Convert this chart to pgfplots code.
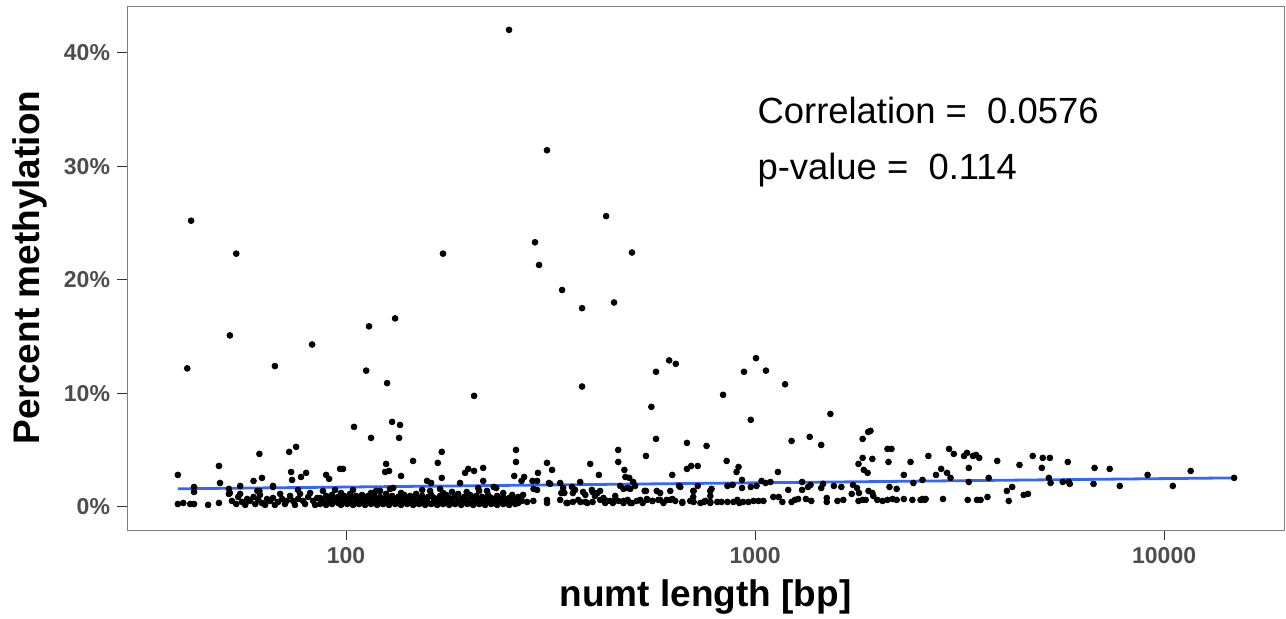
\documentclass[border=0pt]{standalone}
\usepackage{fontspec}
\setmainfont{Liberation Sans}
\usepackage{pgfplots}
\usepackage{pgfplotstable}
\pgfplotsset{compat=1.18}
\definecolor{tickgray}{HTML}{4D4D4D}
\definecolor{framegray}{HTML}{7F7F7F}
\definecolor{lineblue}{HTML}{3366FF}
\pgfplotstableread{
x y
38.8 2.82
38.8 0.26
40.0 0.35
40.9 12.2
41.8 25.2
41.6 0.26
42.5 0.26
42.5 1.76
42.5 1.32
46.0 0.18
48.9 0.35
48.9 3.61
49.2 2.11
51.7 1.59
51.7 1.15
53.9 22.3
52.0 15.1
55.1 1.85
59.4 2.29
61.4 4.67
62.3 2.56
61.4 1.41
66.3 1.76
67.0 12.4
72.6 4.85
75.5 5.29
73.4 3.08
73.8 2.38
77.6 2.64
79.9 3.00
82.6 14.3
89.4 2.82
90.9 2.47
96.7 3.35
98.3 3.35
104.6 7.05
115.1 6.08
112.0 12.0
113.8 15.9
129.6 7.49
135.5 7.22
134.8 6.08
126.0 10.9
131.8 16.6
125.3 3.79
124.6 3.08
127.4 3.17
145.8 4.05
136.3 2.73
167.6 3.88
171.4 4.85
171.4 2.56
172.6 22.3
157.8 2.29
161.4 2.11
128.1 1.59
130.4 1.67
118.4 1.41
160.5 1.41
169.8 1.59
195.4 3.00
199.0 3.35
205.6 3.17
205.6 9.78
216.4 3.44
216.4 2.29
190.0 2.11
197.2 1.32
210.4 1.67
221.1 1.41
229.6 1.76
232.9 1.67
181.6 1.32
250.3 42.0
260.3 5.02
260.3 3.96
257.7 2.73
272.5 2.64
268.5 2.29
285.7 2.29
293.1 2.29
294.6 3.00
289.7 23.3
296.4 21.3
309.9 31.4
309.9 3.88
313.4 2.11
287.3 1.59
293.1 1.50
242.2 1.23
270.9 1.06
318.9 3.26
315.5 2.03
309.9 0.62
337.4 19.1
339.4 1.67
341.7 1.23
356.8 1.76
373.6 2.20
395.3 3.79
415.1 2.82
377.6 17.5
377.6 10.6
379.7 1.32
400.6 1.32
411.6 1.23
432.3 25.6
452.0 18.0
462.8 5.02
462.8 3.96
479.1 3.26
481.8 2.64
492.4 2.56
503.4 2.20
468.1 1.85
476.7 1.59
495.2 1.59
508.9 1.85
500.0 22.4
541.0 4.49
557.8 8.81
572.5 5.99
572.5 11.9
541.0 1.41
616.5 12.9
640.0 12.6
627.2 2.82
620.4 1.41
656.4 1.76
681.5 5.64
681.5 3.35
697.9 3.61
724.0 3.61
761.0 5.37
724.0 1.85
707.5 1.41
706.0 0.88
782.6 1.59
777.3 0.97
835.0 9.87
852.0 4.05
901.0 3.08
911.0 3.52
856.0 1.85
881.0 1.94
929.0 2.38
929.0 1.67
939.4 11.9
976 1.76
976 7.67
1008 1.85
1005 13.1
1037 2.29
1061 2.11
1090 2.20
1063 12.0
1137 3.08
1184 10.8
1205 1.50
1228 5.81
1303 2.20
1303 1.50
1347 1.76
1366 1.94
1360 6.17
1451 5.46
1528 8.19
1451 1.67
1466 2.03
1558 1.85
1625 1.76
1723 1.15
1735 1.94
1775 1.67
1795 1.23
1790 3.79
1832 5.99
1915 6.70
1890 6.60
1832 4.32
1935 4.23
1844 3.26
1884 3.00
1894 1.41
1935 1.23
1945 0.97
2107 5.11
2155 5.11
2119 3.96
2131 1.76
2219 1.59
2399 3.96
2310 2.82
2437 2.11
2566 2.38
2652 4.49
2769 2.82
2850 3.35
2946 3.00
3005 2.56
2980 5.11
3060 4.67
3243 4.49
3297 4.76
3409 4.49
3468 4.58
3531 4.32
3330 3.44
3330 2.20
3725 2.56
3909 4.05
4125 1.41
4252 1.76
4430 3.70
4536 1.06
4645 1.15
4772 4.49
5022 3.44
5050 4.32
5256 4.32
5226 2.56
5277 2.11
5651 2.20
5814 3.96
5847 2.20
5880 2.03
6720 2.03
6760 3.44
7360 3.35
7790 1.85
9110 2.82
10500 1.85
11610 3.17
14830 2.56
}\sparse
\pgfplotstableread{
x y
52.6 0.53
53.9 0.26
54.5 0.88
55.1 1.15
55.7 0.44
56.7 0.18
57.3 0.70
58.2 0.53
59.4 0.88
60.0 0.26
61.0 0.62
61.6 1.06
62.3 0.35
63.4 0.18
64.1 0.70
65.2 0.53
66.3 0.79
67.0 0.18
68.2 0.44
69.0 1.15
69.8 0.70
70.9 0.26
71.6 0.53
73.0 0.97
74.2 0.53
75.0 0.18
76.3 0.70
77.2 1.15
78.5 0.53
79.4 0.26
80.8 0.88
81.7 1.23
83.1 0.53
84.0 0.18
85.0 0.79
52.0 1.23
60.7 1.41
66.3 1.85
76.3 1.50
86.4 0.26
86.4 0.79
87.8 0.53
87.8 1.41
89.4 0.18
89.4 0.97
90.9 0.44
90.9 0.70
92.4 0.26
92.4 1.06
94.0 0.62
94.0 1.50
95.6 0.35
95.6 0.88
97.2 0.18
97.2 0.62
97.2 1.23
98.9 0.44
98.9 0.97
100.6 0.26
100.6 0.70
102.3 0.53
102.3 1.15
104.0 0.18
104.0 0.79
104.0 1.50
105.8 0.35
105.8 0.97
107.6 0.26
107.6 0.62
109.4 0.44
109.4 1.06
111.3 0.18
111.3 0.79
113.2 0.53
113.2 0.97
115.1 0.26
115.1 0.70
115.1 1.23
117.1 0.44
117.1 1.06
119.1 0.18
119.1 0.62
121.1 0.35
121.1 0.88
121.1 1.41
123.2 0.26
123.2 0.70
125.3 0.53
125.3 1.15
127.4 0.18
127.4 0.79
129.6 0.44
129.6 0.97
131.8 0.26
131.8 0.62
134.1 0.35
134.1 0.88
136.3 0.18
136.3 0.70
136.3 1.23
138.7 0.44
138.7 1.06
141.0 0.26
141.0 0.62
143.4 0.53
143.4 0.97
145.9 0.18
145.9 0.79
148.4 0.35
148.4 1.15
150.9 0.26
150.9 0.70
153.5 0.44
153.5 0.97
153.5 1.50
156.1 0.18
156.1 0.62
158.8 0.35
158.8 0.88
161.5 0.26
161.5 1.06
164.2 0.53
164.2 0.79
167.0 0.18
167.0 0.62
169.8 0.35
169.8 0.97
172.7 0.26
172.7 0.70
172.7 1.23
175.7 0.44
175.7 1.06
178.7 0.18
178.7 0.79
181.7 0.35
181.7 0.62
184.8 0.26
184.8 0.97
188.0 0.53
188.0 1.15
191.2 0.18
191.2 0.70
194.4 0.44
194.4 0.88
197.8 0.26
197.8 0.62
201.0 0.35
201.0 1.06
204.5 0.18
204.5 0.79
208.0 0.44
208.0 0.97
211.5 0.26
211.5 0.62
211.5 1.41
215.1 0.35
215.1 0.88
218.8 0.18
218.8 0.70
222.6 0.44
222.6 1.06
226.4 0.26
226.4 0.79
230.2 0.35
230.2 0.62
234.1 0.18
234.1 0.97
238.1 0.44
238.1 0.70
242.2 0.26
242.2 0.88
246.3 0.35
246.3 0.62
250.5 0.18
250.5 0.79
254.8 0.44
254.8 1.06
259.1 0.26
259.1 0.62
263.6 0.35
263.6 0.88
269 0.53
277 0.44
287 0.53
310 0.35
346 0.35
374 0.44
389 0.35
434 0.53
449 0.35
463 0.53
333.8 2.11
363 1.50
399 1.50
418 1.41
336 1.23
358.5 1.23
384.6 1.06
406 0.97
426 0.79
455 0.97
333.8 0.62
348.0 0.35
358.5 0.44
369.6 0.62
384.6 0.44
400.6 0.44
418.2 0.62
430.0 0.35
442.4 0.53
455.0 0.62
476.7 0.35
487.9 0.62
500.0 0.35
523.9 0.62
544.0 0.62
561.0 0.53
586.4 0.62
608.0 0.62
628.0 0.70
664.0 0.44
707.5 0.44
750.0 0.44
777.3 0.44
828.0 0.44
856.0 0.44
905.0 0.62
488 1.67
537 1.41
575 1.41
586 1.23
652 1.85
706 1.41
777 1.41
476.7 0.53
495.2 0.35
514 0.53
531 0.35
544 0.70
561 0.53
580 0.62
597 0.35
620 0.62
638 0.53
664 0.35
694 0.53
735 0.35
756 0.53
777 0.35
808 0.44
885 0.44
915 0.35
935 0.44
963 0.44
991 0.53
1019 0.53
1048 0.53
1108 0.88
1142 0.88
1166 0.44
1228 0.44
1251 0.62
1274 0.70
1331 0.70
1372 0.53
1497 0.79
1497 0.44
1590 0.53
1643 0.62
1790 0.53
1832 0.62
1864 0.62
1990 0.62
2050 0.53
2107 0.62
2169 0.70
2219 0.62
2310 0.70
2424 0.62
2538 0.62
2598 0.62
2568 0.70
2612 0.70
2880 0.70
3310 0.62
3488 0.62
3558 0.62
3700 0.88
4170 0.53
}\dense
\begin{document}
\begin{tikzpicture}
\begin{axis}[
  scale only axis,
  width=578.5pt, height=262pt,
  xmode=log,
  xmin=29.14, xmax=19640, ymin=-2.03, ymax=44.1,
  axis line style={framegray, line width=0.5pt},
  xtick={100,1000,10000}, xticklabels={100,1000,10000},
  ytick={0,10,20,30,40}, yticklabels={0\%,10\%,20\%,30\%,40\%},
  xminorticks=false, yminorticks=false,
  xtick pos=bottom, ytick pos=left, tick align=outside,
  major tick length=5pt,
  tick style={color=black!80, line width=0.5pt},
  tick label style={font=\fontsize{11.5}{13}\selectfont\bfseries, text=tickgray},
  xlabel={numt length [bp]}, ylabel={Percent methylation},
  label style={font=\fontsize{18.5}{22}\selectfont\bfseries, inner sep=0pt},
  xlabel style={at={(axis description cs:0.5,-0.145)}, anchor=base},
  ylabel style={at={(axis description cs:-0.0843,0.501)}, anchor=center},
]
\coordinate (sw) at (rel axis cs:0,0);
\coordinate (ne) at (rel axis cs:1,1);
\addplot[only marks, mark=*, mark size=1.45pt, mark options={fill=black, draw=none}] table[x=x, y=y] {\sparse};
\addplot[only marks, mark=*, mark size=1.45pt, mark options={fill=black, draw=none}] table[x=x, y=y] {\dense};
\addplot[lineblue, line width=1.4pt] coordinates {(38.8,1.60) (14830,2.56)};
\node[anchor=base west, inner sep=0pt, font=\fontsize{18.2}{22}\selectfont] at (axis cs:1012,33.8) {Correlation =\ \ 0.0576};
\node[anchor=base west, inner sep=0pt, font=\fontsize{18.2}{22}\selectfont] at (axis cs:1012,28.8) {p-value =\ \ 0.114};
\end{axis}
\pgfresetboundingbox
\path ([shift={(-63.5pt,-44pt)}]sw) rectangle ([shift={(1pt,3pt)}]ne);
\end{tikzpicture}
\end{document}
